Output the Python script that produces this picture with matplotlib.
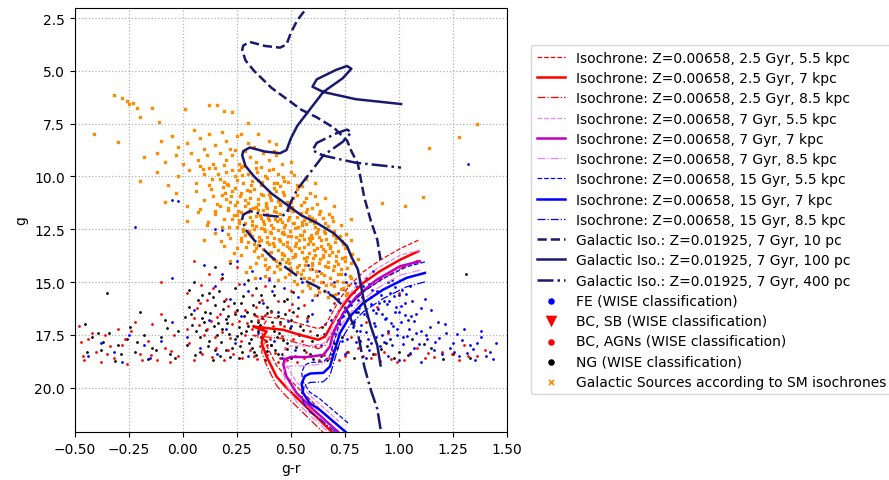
import numpy as np
import matplotlib
matplotlib.use("Agg")
import matplotlib.pyplot as plt

# --- Z=0.00658 isochrones, apparent g at 7 kpc (g-r, g) ---
iso_25_gr = [1.09, 1.006, 0.912, 0.835, 0.773, 0.727, 0.689, 0.658, 0.627, 0.542, 0.465, 0.388,
             0.326, 0.36, 0.388, 0.372, 0.365, 0.388, 0.434, 0.48, 0.58, 0.70]
iso_25_g = [13.54, 13.94, 14.49, 15.04, 15.68, 16.31, 17.02, 17.58, 17.73, 17.50, 17.26, 17.18,
            17.10, 17.25, 17.34, 17.58, 17.89, 18.53, 19.48, 20.0, 21.0, 22.2]

iso_7_gr = [1.097, 1.005, 0.897, 0.804, 0.742, 0.696, 0.681, 0.65, 0.573, 0.50, 0.472, 0.465,
            0.48, 0.527, 0.60, 0.73]
iso_7_g = [14.02, 14.25, 14.89, 15.68, 16.47, 17.42, 18.05, 18.45, 18.55, 18.55, 18.65, 18.9,
           19.48, 20.26, 21.0, 22.2]

iso_15_gr = [1.12, 1.036, 0.927, 0.835, 0.773, 0.727, 0.704, 0.681, 0.65, 0.59, 0.565, 0.55,
             0.557, 0.588, 0.635, 0.765]
iso_15_g = [14.57, 14.8, 15.36, 15.99, 16.63, 17.42, 18.2, 19.0, 19.3, 19.33, 19.45, 19.8,
            20.26, 20.74, 21.06, 22.2]

dist_kpc = [5.5, 7, 8.5]

# --- Galactic isochrone Z=0.01925, 7 Gyr, absolute g ---
gal_gr = [0.915, 0.90, 0.87, 0.84, 0.81, 0.78, 0.76, 0.70, 0.62, 0.55, 0.45, 0.41, 0.33, 0.29,
          0.275, 0.28, 0.31, 0.38, 0.45, 0.48, 0.50, 0.53, 0.59, 0.65, 0.74, 0.78, 0.76, 0.71,
          0.62, 0.60, 0.65, 0.80, 1.01]
gal_M = [13.95, 13.0, 12.1, 11.0, 9.4, 8.8, 8.3, 7.7, 7.2, 6.85, 6.1, 5.8, 5.0, 4.5,
         4.0, 3.8, 3.63, 3.82, 3.9, 3.75, 3.2, 2.6, 1.8, 1.0, 0.35, -0.1, -0.23, -0.05,
         0.4, 0.75, 1.0, 1.34, 1.57]
gal_dist_pc = [10, 100, 400]

# --- WISE classified sources (g-r, g) ---
fe_pts = [
    (0.70, 15.0), (0.75, 14.6), (0.80, 15.2), (0.85, 14.8), (0.90, 15.4), (0.95, 15.0), (1.00, 15.6),
    (1.05, 15.2), (0.72, 15.8), (0.78, 16.1), (0.83, 15.7), (0.88, 16.3), (0.93, 15.9), (0.98, 16.4),
    (1.03, 16.0), (1.08, 16.5), (0.74, 16.6), (0.79, 16.9), (0.84, 16.5), (0.89, 17.1), (0.94, 16.7),
    (0.99, 17.2), (1.04, 16.8), (1.10, 17.3), (0.70, 17.4), (0.76, 17.7), (0.82, 17.3), (0.87, 17.9),
    (0.92, 17.5), (0.97, 18.0), (1.02, 17.6), (1.07, 18.1), (1.13, 17.7), (1.18, 16.9), (1.22, 17.4),
    (1.16, 18.2), (1.25, 17.9), (1.30, 17.2), (1.33, 18.0), (1.38, 17.6), (1.42, 18.3), (1.28, 18.5),
    (1.20, 18.4), (1.12, 15.8), (1.15, 16.3), (0.86, 15.1), (0.96, 15.5), (0.91, 16.0), (0.81, 16.4),
    (1.01, 16.9), (0.97, 14.9), (1.06, 15.9), (0.88, 14.5), (0.68, 16.3), (0.66, 17.0), (0.62, 15.6),
    (0.60, 16.5), (0.64, 18.0), (0.75, 18.4), (0.85, 18.6), (0.95, 18.5), (1.00, 18.7), (1.10, 18.8),
    (1.35, 18.7), (1.45, 17.9), (0.63, 14.5), (0.58, 14.2), (0.55, 15.0),
    (0.742, 15.33), (0.768, 15.91), (0.793, 15.47), (0.817, 16.22), (0.836, 15.18), (0.851, 16.61),
    (0.869, 15.72), (0.884, 16.94), (0.903, 16.28), (0.918, 15.61), (0.937, 16.73), (0.952, 15.88),
    (0.971, 17.06), (0.986, 16.17), (1.013, 15.39), (1.027, 16.58), (1.046, 17.21), (0.761, 16.37),
    (0.788, 17.13), (0.812, 15.84), (0.847, 17.38), (0.873, 16.02), (0.896, 17.62), (0.924, 16.49),
    (0.948, 17.31), (0.976, 15.68), (1.002, 16.41), (1.038, 17.54), (1.071, 16.86), (1.094, 17.95),
    (1.143, 17.12), (1.187, 17.67), (1.236, 18.13), (1.268, 17.46), (1.314, 18.36), (1.362, 17.89),
    (1.403, 18.52), (0.729, 16.97), (0.803, 17.82), (0.862, 18.21), (0.913, 18.03), (0.957, 17.72),
    (1.053, 18.34),
    (0.719, 15.52), (0.735, 17.78), (0.757, 14.98), (0.776, 16.62), (0.798, 15.06), (0.824, 17.02),
    (0.841, 15.92), (0.858, 17.68), (0.877, 15.36), (0.892, 16.47), (0.909, 14.82), (0.929, 17.86),
    (0.943, 16.04), (0.963, 16.92), (0.981, 15.22), (0.993, 17.49), (1.008, 16.12), (1.021, 17.92),
    (1.034, 15.57), (1.058, 16.63), (1.077, 17.41), (1.104, 16.21), (1.126, 17.52), (1.169, 17.86),
    (1.211, 16.98), (1.254, 18.31), (1.291, 17.73), (1.342, 18.19), (1.381, 17.31), (1.433, 18.64),
    (0.672, 15.48), (0.684, 16.78), (0.652, 17.46), (0.596, 15.87), (0.573, 16.83), (0.534, 15.72),
    (0.489, 16.86), (0.412, 15.43), (0.356, 14.83), (0.282, 15.07),
    (0.10, 14.2), (0.18, 14.6), (0.25, 14.0), (0.32, 14.5), (0.40, 14.9), (0.47, 15.3), (0.15, 15.2),
    (0.22, 15.8), (0.30, 15.4), (0.37, 16.0), (0.44, 16.4), (0.05, 16.3), (0.12, 16.8), (0.20, 17.2),
    (0.27, 16.6), (0.35, 17.4), (0.42, 17.8), (0.50, 17.1), (0.02, 17.6), (0.08, 18.1), (0.16, 18.4),
    (0.24, 17.9), (0.30, 18.5), (0.38, 18.3), (0.46, 18.6), (0.52, 18.2), (-0.05, 16.9), (-0.10, 17.8),
    (-0.18, 18.0), (-0.25, 17.5), (-0.32, 18.3), (-0.38, 17.9), (-0.44, 18.5), (-0.15, 18.6),
    (-0.28, 18.8), (-0.05, 11.1), (-0.02, 11.15), (-0.22, 12.4), (0.15, 12.5), (0.18, 12.55),
    (0.10, 13.0), (-0.05, 14.8), (1.32, 9.4),
]
sb_pts = []
agn_pts = [
    (0.02, 15.5), (0.08, 16.0), (0.14, 15.3), (0.20, 15.8), (0.26, 15.1), (0.32, 15.6), (0.38, 15.2),
    (0.44, 15.9), (0.50, 15.4), (0.56, 16.1), (0.05, 16.7), (0.11, 17.2), (0.17, 16.5), (0.23, 17.0),
    (0.29, 16.3), (0.35, 16.8), (0.41, 16.4), (0.47, 17.1), (0.53, 16.6), (0.59, 17.3), (0.03, 17.9),
    (0.09, 18.4), (0.15, 17.6), (0.21, 18.2), (0.27, 17.8), (0.33, 18.5), (0.39, 18.0), (0.45, 18.6),
    (0.51, 17.7), (0.57, 18.3), (0.63, 18.7), (0.69, 18.2), (0.75, 18.5), (0.81, 18.1), (0.87, 18.6),
    (0.93, 18.3), (0.99, 18.8), (1.05, 18.4), (1.12, 18.6), (1.20, 18.3), (1.28, 18.7), (1.36, 18.5),
    (1.40, 18.2), (1.30, 18.0), (0.95, 17.4), (0.85, 16.9), (0.78, 17.6), (0.90, 16.2), (1.00, 15.5),
    (0.70, 16.0), (0.65, 15.0), (0.60, 14.4), (0.12, 14.6), (0.25, 14.3), (0.40, 14.8),
    (-0.48, 17.1), (-0.44, 17.7), (-0.40, 18.3), (-0.36, 17.5), (-0.32, 18.6), (-0.28, 18.0),
    (-0.24, 17.3), (-0.20, 18.4), (-0.16, 17.8), (-0.12, 18.7), (-0.08, 18.1), (-0.04, 17.5),
    (-0.46, 18.5), (-0.38, 18.8), (-0.30, 17.2), (-0.22, 16.9), (-0.14, 17.0), (-0.06, 18.8),
    (-0.10, 16.5), (-0.26, 18.9), (-0.10, 15.0), (0.05, 14.0),
    (0.064, 16.22), (0.096, 17.53), (0.129, 16.84), (0.153, 18.12), (0.182, 17.37), (0.207, 16.12),
    (0.231, 18.41), (0.262, 16.86), (0.288, 17.52), (0.311, 18.21), (0.337, 16.19), (0.356, 18.03),
    (0.379, 16.58), (0.402, 17.72), (0.426, 18.38), (0.449, 16.97), (0.471, 18.14), (0.493, 16.31),
    (0.517, 18.52), (0.538, 17.46), (0.563, 18.61), (0.612, 18.02), (0.654, 18.44), (0.724, 18.67),
    (0.836, 18.49), (0.912, 18.74), (1.083, 18.12), (1.164, 18.57), (1.247, 18.41), (-0.053, 18.26),
    (-0.147, 18.47), (-0.336, 18.04), (-0.418, 17.41), (0.084, 15.12), (0.176, 14.87),
    (0.018, 17.21), (0.052, 18.67), (0.074, 17.02), (0.113, 15.84), (0.136, 18.53), (0.158, 16.67),
    (0.193, 18.71), (0.218, 17.63), (0.243, 16.44), (0.272, 18.59), (0.299, 16.96), (0.322, 17.23),
    (0.344, 18.62), (0.365, 15.87), (0.392, 18.44), (0.418, 17.07), (0.439, 18.77), (0.461, 17.54),
    (0.484, 18.68), (0.506, 16.03), (0.527, 18.79), (0.551, 17.81), (0.574, 16.72), (0.593, 18.49),
    (0.676, 18.58), (0.763, 18.31), (0.891, 18.42), (0.964, 18.62), (1.024, 18.71), (1.136, 18.38),
    (1.318, 18.48), (-0.022, 18.51), (-0.187, 18.68), (-0.268, 17.69), (-0.352, 18.41), (-0.472, 17.83),
    (-0.456, 18.71),
]
ng_pts = [
    (0.05, 15.0), (0.12, 15.5), (0.18, 14.8), (0.24, 15.3), (0.30, 14.9), (0.36, 15.6), (0.42, 15.2),
    (0.48, 15.8), (0.03, 16.2), (0.09, 16.7), (0.15, 16.1), (0.21, 16.6), (0.27, 16.0), (0.33, 16.5),
    (0.39, 16.2), (0.45, 16.9), (0.51, 16.4), (0.06, 17.3), (0.12, 17.8), (0.18, 17.2), (0.24, 17.7),
    (0.30, 17.1), (0.36, 17.6), (0.42, 17.3), (0.48, 17.9), (0.54, 17.5), (0.08, 18.3), (0.14, 18.7),
    (0.20, 18.2), (0.26, 18.6), (0.32, 18.1), (0.38, 18.7), (0.44, 18.4), (0.50, 18.6), (0.56, 18.2),
    (0.60, 17.8), (0.64, 18.5), (0.70, 17.9), (0.76, 18.3), (0.82, 17.8), (0.88, 18.4), (0.94, 17.9),
    (1.00, 18.3), (1.06, 17.7), (1.15, 18.1), (1.25, 18.4), (1.33, 18.6), (0.72, 16.8), (0.80, 16.4),
    (0.15, 14.3), (0.22, 14.1), (0.10, 16.9), (0.19, 15.9), (0.27, 17.4), (0.35, 16.9), (0.41, 18.0),
    (0.16, 17.5), (0.25, 16.3), (0.34, 15.3), (0.02, 18.0),
    (-0.45, 17.0), (-0.42, 17.6), (-0.38, 18.2), (-0.34, 17.4), (-0.30, 18.0), (-0.26, 17.7),
    (-0.22, 18.3), (-0.18, 17.5), (-0.14, 18.1), (-0.10, 17.6), (-0.06, 18.4), (-0.02, 17.3),
    (-0.35, 15.5), (-0.20, 16.4), (-0.08, 16.8), (1.31, 14.6),
    (0.071, 15.84), (0.103, 16.41), (0.138, 15.72), (0.164, 16.93), (0.187, 16.28), (0.213, 17.46),
    (0.236, 15.97), (0.258, 17.13), (0.283, 16.62), (0.307, 17.88), (0.324, 16.07), (0.347, 17.34),
    (0.368, 16.71), (0.391, 18.26), (0.413, 16.89), (0.437, 17.62), (0.458, 18.43), (0.474, 16.53),
    (0.496, 17.18), (0.523, 18.07), (0.082, 17.61), (0.117, 18.02), (0.146, 17.08), (0.172, 18.48),
    (0.198, 16.77), (0.227, 18.14), (0.251, 17.57), (0.274, 18.33), (0.296, 16.41), (0.318, 17.69),
    (0.338, 18.47), (0.359, 17.02), (0.383, 17.81), (0.406, 16.36), (0.428, 18.21), (0.447, 17.43),
    (0.468, 15.92), (0.503, 16.82), (0.542, 17.07), (0.587, 18.39), (0.623, 17.52), (0.668, 18.71),
    (0.712, 18.14), (0.853, 18.02), (0.977, 18.58), (-0.123, 18.23), (-0.211, 17.84), (-0.287, 18.41),
    (-0.392, 17.39), (0.036, 16.53),
    (0.045, 17.02), (0.058, 18.46), (0.091, 15.63), (0.109, 17.27), (0.124, 16.48), (0.151, 18.21),
    (0.168, 15.41), (0.179, 17.83), (0.203, 16.94), (0.219, 18.57), (0.242, 16.52), (0.266, 18.02),
    (0.279, 15.68), (0.293, 17.31), (0.314, 16.83), (0.331, 18.29), (0.352, 15.94), (0.373, 17.17),
    (0.388, 16.46), (0.409, 17.96), (0.421, 15.61), (0.442, 16.63), (0.463, 17.76), (0.481, 18.18),
    (0.509, 15.47), (0.531, 16.22), (0.557, 17.28), (0.578, 16.61), (0.601, 18.64), (0.646, 17.14),
    (0.689, 18.42), (0.738, 17.61), (0.791, 18.61), (0.918, 18.19), (1.042, 18.46), (1.117, 17.93),
    (1.204, 18.62), (-0.034, 18.59), (-0.071, 17.16), (-0.163, 18.62), (-0.246, 17.12), (-0.312, 18.72),
    (-0.368, 17.83), (-0.441, 18.31), (0.012, 16.66), (0.027, 15.37),
]

# --- sources flagged as Galactic by the SM isochrones ---
galactic_pts = [
    (-0.32, 6.14), (-0.28, 6.30), (-0.26, 6.42), (-0.25, 6.58), (-0.23, 6.50), (-0.21, 6.77), (-0.20, 7.20),
    (-0.14, 6.77), (-0.11, 7.40), (-0.41, 8.00), (-0.30, 8.35), (0.12, 6.61), (0.16, 6.61), (0.19, 6.90),
    (0.23, 6.95), (0.01, 6.82), (0.30, 7.48), (0.27, 8.00), (1.36, 7.53), (1.28, 8.13), (1.14, 8.67),
    (1.11, 10.96), (0.92, 11.25), (1.03, 11.4),
    (-0.10, 8.3), (-0.05, 8.1), (0.02, 8.4), (0.08, 8.2), (0.12, 8.0), (0.15, 8.5), (0.20, 8.3), (0.25, 8.1),
    (0.30, 8.4), (0.35, 8.0), (0.40, 8.3), (0.18, 7.9), (0.05, 7.8), (0.43, 8.45), (0.33, 8.6), (-0.02, 8.6),
    (0.22, 8.7), (0.10, 8.7),
    (-0.18, 9.1), (-0.12, 8.9), (-0.08, 9.3), (-0.03, 9.0), (0.00, 9.4), (0.04, 8.9), (0.07, 9.2), (0.11, 9.0),
    (0.14, 9.4), (0.17, 8.9), (0.20, 9.2), (0.23, 9.0), (0.26, 9.4), (0.29, 8.8), (0.31, 9.1), (0.34, 9.3),
    (0.37, 8.9), (0.40, 9.2), (0.43, 9.0), (0.46, 9.4), (0.50, 9.3), (0.28, 9.5), (0.19, 9.45), (0.08, 9.5),
    (0.36, 9.55), (0.24, 8.75), (0.42, 8.8),
    (-0.20, 10.2), (-0.12, 9.8), (-0.07, 10.4), (-0.02, 10.0), (0.03, 9.7), (0.06, 10.3), (0.10, 9.9),
    (0.12, 10.4), (0.15, 9.6), (0.17, 10.1), (0.20, 9.8), (0.21, 10.4), (0.24, 10.0), (0.26, 9.7),
    (0.28, 10.3), (0.30, 9.9), (0.32, 10.2), (0.34, 9.6), (0.36, 10.4), (0.38, 10.0), (0.40, 9.7),
    (0.42, 10.3), (0.44, 9.9), (0.47, 10.2), (0.50, 9.8), (0.53, 10.4), (0.57, 10.1), (0.61, 10.3),
    (0.19, 10.25), (0.27, 9.55), (0.35, 10.15), (0.45, 10.45),
    (-0.08, 11.2), (-0.03, 10.8), (0.02, 11.4), (0.06, 10.7), (0.10, 11.1), (0.13, 10.6), (0.16, 11.3),
    (0.18, 10.9), (0.21, 11.5), (0.23, 10.7), (0.25, 11.2), (0.27, 10.8), (0.29, 11.4), (0.31, 11.0),
    (0.33, 10.6), (0.35, 11.3), (0.37, 10.9), (0.39, 11.5), (0.41, 11.1), (0.43, 10.7), (0.45, 11.3),
    (0.47, 10.9), (0.49, 11.4), (0.51, 11.0), (0.53, 10.6), (0.56, 11.2), (0.59, 10.8), (0.62, 11.3),
    (0.66, 11.0), (0.70, 11.4), (0.24, 10.55), (0.34, 11.45), (0.42, 10.55), (0.20, 11.05), (0.30, 11.25),
    (0.40, 10.85), (0.50, 11.2),
    (0.02, 12.1), (0.07, 11.7), (0.11, 12.3), (0.15, 11.8), (0.18, 12.4), (0.21, 11.6), (0.23, 12.0),
    (0.25, 12.4), (0.27, 11.7), (0.29, 12.2), (0.31, 11.9), (0.33, 12.5), (0.35, 11.6), (0.37, 12.1),
    (0.39, 11.8), (0.41, 12.3), (0.43, 11.7), (0.45, 12.0), (0.47, 12.4), (0.49, 11.6), (0.51, 12.2),
    (0.53, 11.9), (0.55, 12.3), (0.57, 11.7), (0.59, 12.1), (0.61, 12.4), (0.63, 11.8), (0.66, 12.2),
    (0.69, 11.9), (0.73, 12.3), (0.78, 12.0), (0.26, 12.05), (0.36, 11.95), (0.46, 12.15), (0.56, 12.05),
    (0.32, 12.3), (0.42, 11.65), (0.52, 12.45), (0.60, 11.95), (0.40, 12.05),
    (0.10, 13.0), (0.15, 12.7), (0.19, 13.3), (0.22, 12.9), (0.25, 13.4), (0.28, 12.6), (0.30, 13.1),
    (0.32, 12.8), (0.34, 13.4), (0.36, 13.0), (0.38, 12.6), (0.40, 13.2), (0.42, 12.9), (0.44, 13.5),
    (0.46, 12.7), (0.48, 13.1), (0.50, 12.8), (0.52, 13.3), (0.54, 13.0), (0.56, 12.6), (0.58, 13.2),
    (0.60, 12.9), (0.62, 13.4), (0.64, 13.0), (0.66, 12.7), (0.68, 13.3), (0.71, 12.9), (0.74, 13.2),
    (0.78, 13.0), (0.35, 13.25), (0.45, 13.05), (0.55, 12.75), (0.65, 13.45), (0.39, 12.85), (0.49, 13.4),
    (0.59, 13.05), (0.70, 12.6), (0.27, 13.05),
    (0.22, 14.0), (0.27, 13.7), (0.31, 14.3), (0.35, 13.8), (0.38, 14.2), (0.41, 13.6), (0.43, 14.0),
    (0.45, 14.4), (0.47, 13.7), (0.49, 14.1), (0.51, 13.8), (0.53, 14.3), (0.55, 13.6), (0.57, 14.0),
    (0.59, 14.4), (0.61, 13.7), (0.63, 14.1), (0.65, 13.8), (0.67, 14.3), (0.69, 13.6), (0.71, 14.0),
    (0.73, 14.4), (0.75, 13.8), (0.78, 14.1), (0.81, 13.9), (0.50, 14.45), (0.60, 14.2), (0.70, 14.25),
    (0.46, 13.9), (0.56, 13.85), (0.66, 13.55), (0.40, 14.3),
    (0.38, 14.7), (0.44, 14.9), (0.49, 14.6), (0.53, 15.1), (0.56, 14.8), (0.59, 15.3), (0.62, 14.7),
    (0.64, 15.0), (0.66, 15.4), (0.68, 14.8), (0.70, 15.2), (0.72, 14.6), (0.74, 15.0), (0.76, 15.5),
    (0.78, 14.8), (0.61, 15.6), (0.67, 15.7), (0.71, 15.55), (0.55, 15.4), (0.73, 15.35),
    (0.093, 9.63), (0.137, 10.12), (0.161, 9.87), (0.204, 10.36), (0.229, 9.71), (0.252, 10.18),
    (0.276, 9.92), (0.318, 10.41), (0.343, 9.78), (0.367, 10.27), (0.391, 10.06), (0.418, 9.66),
    (0.436, 10.33), (0.462, 10.01), (0.489, 10.24), (0.514, 9.93), (0.551, 10.47), (0.184, 10.52),
    (0.297, 10.63), (0.121, 9.58),
    (0.141, 10.93), (0.172, 11.41), (0.196, 10.77), (0.219, 11.19), (0.244, 11.36), (0.263, 10.94),
    (0.287, 11.12), (0.309, 10.71), (0.326, 11.48), (0.348, 11.07), (0.362, 10.82), (0.384, 11.28),
    (0.403, 10.96), (0.427, 11.43), (0.441, 11.15), (0.466, 10.74), (0.483, 11.22), (0.507, 11.46),
    (0.528, 10.89), (0.546, 11.33), (0.571, 11.01), (0.596, 11.47), (0.613, 10.92), (0.257, 11.62),
    (0.372, 11.58),
    (0.193, 12.02), (0.216, 12.38), (0.238, 11.83), (0.259, 12.21), (0.281, 12.47), (0.302, 11.68),
    (0.322, 12.09), (0.341, 12.34), (0.356, 11.81), (0.378, 12.27), (0.394, 11.97), (0.416, 12.44),
    (0.434, 12.13), (0.452, 11.76), (0.471, 12.31), (0.492, 11.92), (0.513, 12.18), (0.534, 12.39),
    (0.548, 11.74), (0.569, 12.27), (0.585, 11.88), (0.606, 12.21), (0.624, 12.48), (0.648, 11.97),
    (0.672, 12.36), (0.694, 12.12), (0.287, 12.78), (0.463, 12.62), (0.617, 12.66),
    (0.268, 12.93), (0.291, 13.36), (0.313, 12.72), (0.331, 13.18), (0.352, 12.87), (0.371, 13.44),
    (0.389, 13.08), (0.408, 12.69), (0.424, 13.31), (0.447, 12.97), (0.463, 13.22), (0.486, 12.83),
    (0.503, 13.47), (0.522, 13.13), (0.541, 12.76), (0.563, 13.36), (0.582, 12.91), (0.603, 13.19),
    (0.621, 12.64), (0.639, 13.28), (0.661, 12.98), (0.683, 13.41), (0.702, 13.12), (0.727, 12.83),
    (0.749, 13.37),
    (0.341, 14.12), (0.367, 13.72), (0.392, 14.38), (0.418, 13.91), (0.437, 14.23), (0.458, 13.64),
    (0.476, 14.07), (0.497, 14.34), (0.518, 13.69), (0.536, 14.18), (0.558, 14.41), (0.576, 13.83),
    (0.597, 14.09), (0.618, 14.47), (0.637, 13.93), (0.656, 14.24), (0.677, 13.71), (0.697, 14.41),
    (0.716, 14.13), (0.738, 13.84), (0.761, 14.32), (0.783, 13.67),
    (0.472, 14.76), (0.514, 14.96), (0.547, 14.63), (0.578, 15.16), (0.603, 14.89), (0.627, 15.27),
    (0.652, 14.68), (0.688, 15.08), (0.714, 14.94), (0.742, 15.27), (0.765, 15.13), (0.632, 15.48),
    (0.697, 15.62),
    (0.312, 11.53), (0.338, 11.86), (0.364, 12.42), (0.386, 11.41), (0.405, 12.63), (0.428, 12.02),
    (0.449, 11.37), (0.468, 12.73), (0.487, 12.08), (0.509, 11.63), (0.526, 12.87), (0.552, 12.14),
    (0.573, 11.52), (0.594, 12.79), (0.612, 12.06), (0.633, 11.63), (0.652, 12.57), (0.675, 11.78),
    (0.307, 12.58), (0.328, 13.52), (0.351, 13.06), (0.374, 12.49), (0.396, 13.61), (0.419, 13.17),
    (0.441, 12.54), (0.459, 13.69), (0.481, 13.28), (0.498, 12.56), (0.517, 13.78), (0.539, 13.38),
    (0.561, 12.97), (0.583, 13.63), (0.607, 13.46), (0.629, 12.87), (0.651, 13.72), (0.672, 13.21),
    (0.694, 12.78), (0.716, 13.54), (0.738, 13.06), (0.757, 12.73), (0.381, 13.89), (0.423, 14.52),
    (0.452, 14.16), (0.487, 13.92), (0.528, 14.54), (0.567, 14.21), (0.604, 13.88), (0.641, 14.58),
    (0.672, 14.04), (0.707, 13.77), (0.731, 14.61), (0.752, 14.02), (0.772, 14.72), (0.584, 14.83),
    (0.662, 15.14), (0.753, 15.62), (0.222, 10.94), (0.253, 11.84), (0.149, 11.64), (0.116, 12.17),
    (0.082, 11.52), (0.208, 12.74), (0.176, 13.04), (0.239, 13.62), (0.291, 14.51), (0.336, 14.81),
]


def xy(pts):
    if not pts:
        return np.array([]), np.array([])
    a = np.array(pts)
    return a[:, 0], a[:, 1]


fig = plt.figure(figsize=(8.89, 4.81), dpi=100)
ax = fig.add_axes([0.084, 0.0998, 0.4863, 0.8825])

navy = "#191970"
dot = 4

x, y = xy(ng_pts)
ax.scatter(x, y, s=dot, c="black", marker="o", linewidths=0, label="NG (WISE classification)", zorder=2)
x, y = xy(agn_pts)
ax.scatter(x, y, s=dot, c="red", marker="o", linewidths=0, label="BC, AGNs (WISE classification)", zorder=2)
x, y = xy(sb_pts)
ax.scatter(x, y, s=14, c="red", marker="v", linewidths=0, label="BC, SB (WISE classification)", zorder=2)
x, y = xy(fe_pts)
ax.scatter(x, y, s=dot, c="blue", marker="o", linewidths=0, label="FE (WISE classification)", zorder=2)
x, y = xy(galactic_pts)
ax.scatter(x, y, s=4, c="darkorange", marker="x", linewidths=1.2,
           label="Galactic Sources according to SM isochrones", zorder=2)

# Z=0.00658 isochrones shifted to each distance
iso_sets = [("2.5 Gyr", iso_25_gr, iso_25_g, "red", "red"),
            ("7 Gyr", iso_7_gr, iso_7_g, "m", "violet"),
            ("15 Gyr", iso_15_gr, iso_15_g, "blue", "blue")]
iso_lines = []
for age, gr, g7, col, thin in iso_sets:
    g7 = np.array(g7)
    for d in dist_kpc:
        g = g7 + 5 * np.log10(d / 7.0)
        if d == 7:
            ln, = ax.plot(gr, g, "-", color=col, lw=1.8, zorder=3)
        elif d < 7:
            ln, = ax.plot(gr, g, "--", color=thin, lw=0.9, zorder=3)
        else:
            ln, = ax.plot(gr, g, "-.", color=thin, lw=0.9, zorder=3)
        ln.set_label("Isochrone: Z=0.00658, %s, %g kpc" % (age, d))
        iso_lines.append(ln)

gal_lines = []
for d, ls in zip(gal_dist_pc, ["--", "-", "-."]):
    g = np.array(gal_M) + 5 * np.log10(d / 10.0)
    ln, = ax.plot(gal_gr, g, ls, color=navy, lw=1.8, zorder=4,
                  label="Galactic Iso.: Z=0.01925, 7 Gyr, %d pc" % d)
    gal_lines.append(ln)

ax.set_xlim(-0.5, 1.5)
ax.set_ylim(22.1, 2.0)
ax.set_xticks(np.arange(-0.5, 1.51, 0.25))
ax.set_yticks(np.arange(2.5, 20.1, 2.5))
ax.grid(True, linestyle=":", color="#b0b0b0", lw=0.9)
ax.set_axisbelow(True)
ax.set_xlabel("g-r")
ax.set_ylabel("g")

handles, labels = ax.get_legend_handles_labels()
order = iso_lines + gal_lines
sc = {l: h for h, l in zip(handles, labels)}
names = ["FE (WISE classification)", "BC, SB (WISE classification)",
         "BC, AGNs (WISE classification)", "NG (WISE classification)",
         "Galactic Sources according to SM isochrones"]
hs = order + [sc[n] for n in names]
ls_ = [h.get_label() for h in order] + names
leg = ax.legend(hs, ls_, loc="center left", bbox_to_anchor=(1.04, 0.5), labelspacing=0.45)
# bigger markers in the legend than in the crowded plot
for h, size in zip(leg.legend_handles[len(order):], [22, 70, 22, 22, 14]):
    h.set_sizes([size])

fig.savefig("out.png", dpi=100)
